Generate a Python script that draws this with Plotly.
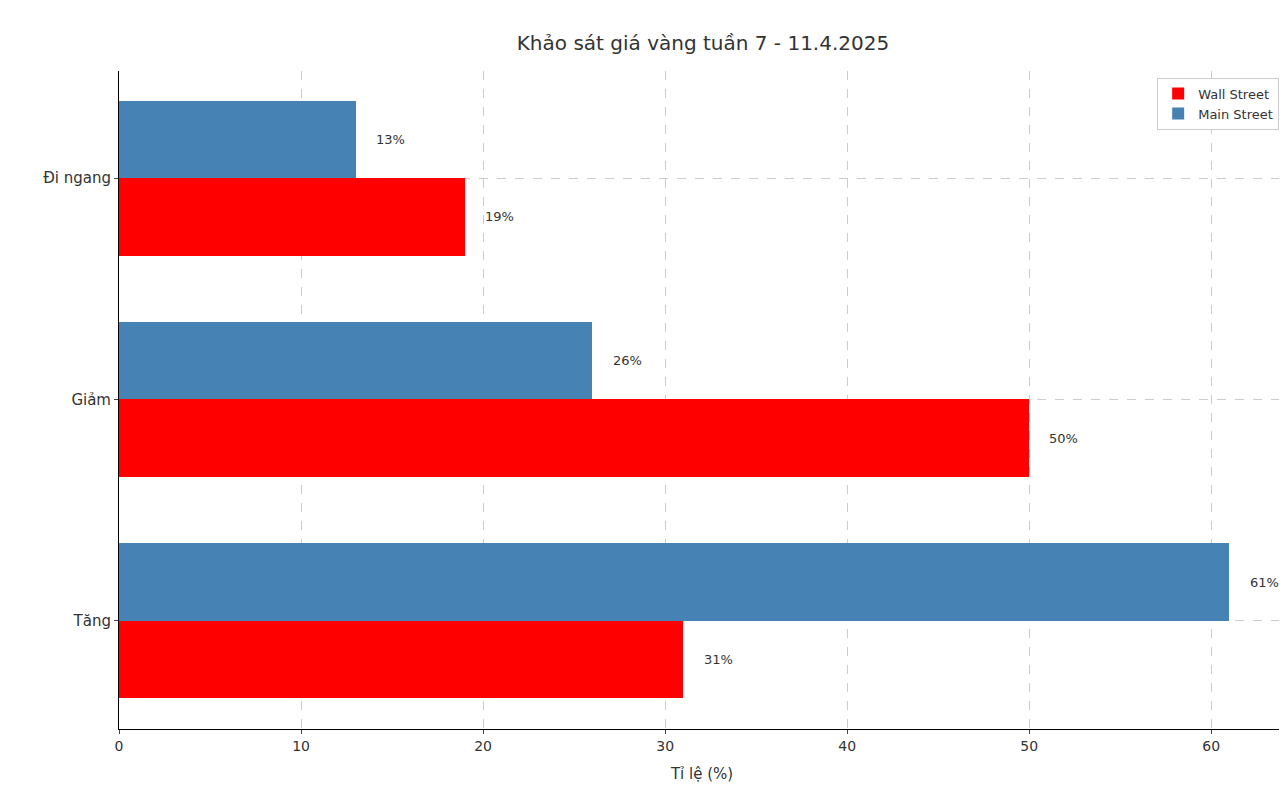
import plotly.graph_objects as go

categories = ["Tăng", "Giảm", "Đi ngang"]
wall_street = [31, 50, 19]
main_street = [61, 26, 13]
x_ticks = [0, 10, 20, 30, 40, 50, 60]

h = 0.35
pos = list(range(len(categories)))
fig = go.Figure()
fig.add_bar(y=[p - h/2 for p in pos], x=wall_street, orientation="h", width=h,
            name="Wall Street", marker=dict(color="#ff0000", line_width=0))
fig.add_bar(y=[p + h/2 for p in pos], x=main_street, orientation="h", width=h,
            name="Main Street", marker=dict(color="#4682b4", line_width=0))

ann = []
for p, v in zip(pos, wall_street):
    ann.append(dict(x=v + 1, y=p - h/2, text=f"{v}%", showarrow=False, xanchor="left",
                    font=dict(size=13, color="#333")))
for p, v in zip(pos, main_street):
    ann.append(dict(x=v + 1, y=p + h/2, text=f"{v}%", showarrow=False, xanchor="left",
                    font=dict(size=13, color="#333")))

fig.update_layout(
    width=1287, height=787, plot_bgcolor="white", paper_bgcolor="white",
    margin=dict(l=111, r=10, t=63, b=66),
    font=dict(family="DejaVu Sans", color="#333"),
    title=dict(text="Khảo sát giá vàng tuần 7 - 11.4.2025", x=0.54, xanchor="center",
               y=0.965, font=dict(size=20)),
    barmode="overlay", bargap=0, annotations=ann,
    legend=dict(x=0.995, y=0.99, xanchor="right", yanchor="top", bordercolor="#ccc",
                borderwidth=1, font=dict(size=13), bgcolor="white"),
    xaxis=dict(range=[0, 64.05], tickvals=x_ticks, showgrid=True, gridcolor="#ccc",
               griddash="dash", showline=True, linecolor="black", ticks="outside",
               ticklen=4, tickfont=dict(size=14), zeroline=False,
               title=dict(text="Tỉ lệ (%)", font=dict(size=15))),
    yaxis=dict(range=[-0.489, 2.484], tickvals=pos, ticktext=categories, showgrid=True,
               gridcolor="#ccc", griddash="dash", showline=True, linecolor="black",
               ticks="outside", ticklen=4, tickfont=dict(size=15), zeroline=False),
)
fig.write_html("out.html")
